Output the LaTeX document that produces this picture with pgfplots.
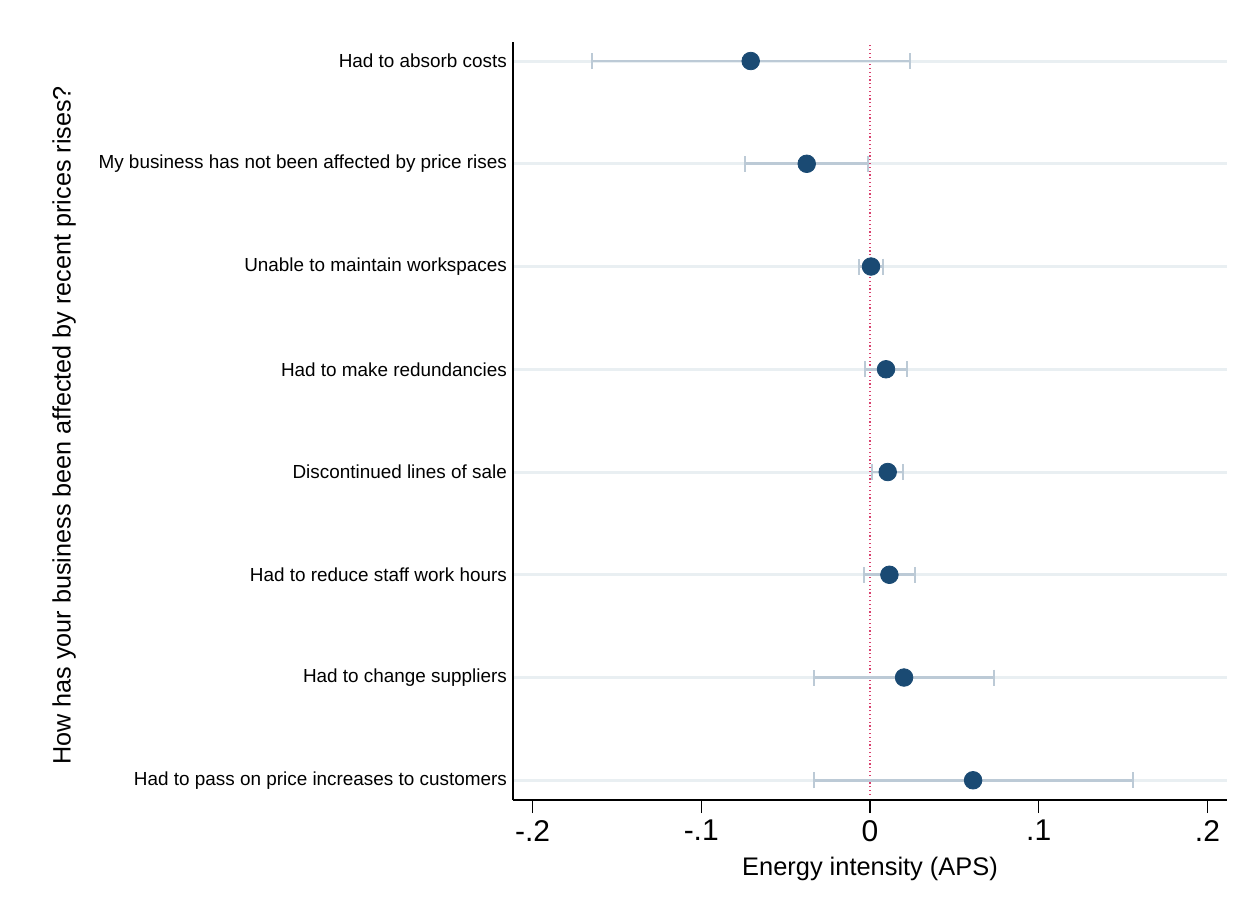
\documentclass[border=0pt]{standalone}
\usepackage{fontspec}
\setmainfont{Liberation Sans}
\usepackage{pgfplots}
\usepackage{pgfplotstable}
\pgfplotsset{compat=1.18}
\definecolor{navy}{HTML}{1A4A73}
\definecolor{cigray}{HTML}{BCCAD6}
\definecolor{gridc}{HTML}{E9EFF2}
\definecolor{zeroc}{HTML}{D9406E}
\pgfplotstableread{
y x ex
8 -0.0707 0.0942
7 -0.0375 0.0364
6 0.0006 0.0074
5 0.0095 0.0126
4 0.0105 0.0092
3 0.0115 0.0153
2 0.0202 0.0533
1 0.0611 0.0945
}\coefs
\begin{document}
\begin{tikzpicture}
\useasboundingbox (-256.65pt,-55.5pt) rectangle (369.85pt,400pt);
\begin{axis}[
  scale only axis, width=356.7pt, height=379.15pt,
  at={(0,0)}, anchor=south west,
  xmin=-0.2114, xmax=0.2114,
  ymin=0.808, ymax=8.188,
  axis lines*=left,
  axis line style={black, line width=1pt},
  xtick={-0.2,-0.1,0,0.1,0.2},
  xticklabels={-.2,-.1,0,.1,.2},
  tick align=outside,
  major tick length=6.5pt,
  xtick style={black, line width=0.75pt},
  ytick={1,...,8},
  yticklabels={Had to pass on price increases to customers, Had to change suppliers, Had to reduce staff work hours, Discontinued lines of sale, Had to make redundancies, Unable to maintain workspaces, My business has not been affected by price rises, Had to absorb costs},
  ytick style={draw=none},
  yticklabel style={font=\fontsize{9.45}{11}\selectfont, anchor=east, inner sep=0pt, xshift=3.5pt},
  xticklabel style={font=\fontsize{15}{18}\selectfont},
  /pgf/number format/assume math mode=true,
  ymajorgrids=true,
  grid style={gridc, line width=1.5pt},
  xlabel={Energy intensity (APS)},
  xlabel style={font=\fontsize{12.7}{15}\selectfont, at={(axis description cs:0.5,0)}, anchor=base, yshift=-37.5pt},
  ylabel={How has your business been affected by recent prices rises?},
  ylabel style={font=\fontsize{12.6}{15}\selectfont, at={(axis description cs:-0.6298,0.494)}, anchor=center, rotate=0},
]
\addplot[zeroc, line width=0.8pt, dash pattern=on 0.6pt off 1.3pt] coordinates {(0,0.857) (0,8.17)};
\addplot[only marks, mark=none, error bars/.cd, x dir=both, x explicit,
  error bar style={cigray, line width=1.4pt},
  error mark options={cigray, line width=1pt, mark size=4pt, rotate=90}]
  table[x=x, y=y, x error=ex] {\coefs};
\addplot[only marks, mark=*, mark size=4.4pt, mark options={fill=navy, draw=navy}]
  table[x=x, y=y] {\coefs};
\end{axis}
\end{tikzpicture}
\end{document}
